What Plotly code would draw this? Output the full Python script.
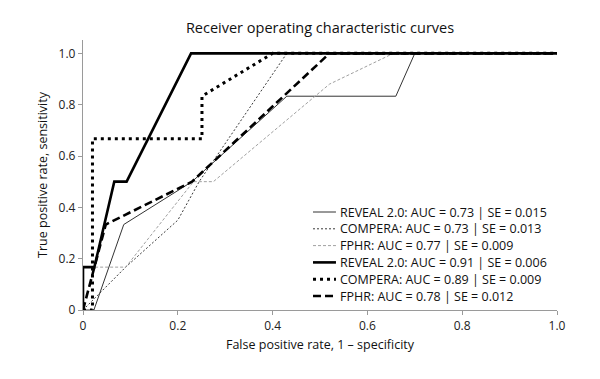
import plotly.graph_objects as go

# ---- data ----
fpr_reveal_a = [0, 0.023, 0.086, 0.23, 0.43, 0.66, 0.70, 1.0]
tpr_reveal_a = [0, 0, 0.333, 0.5, 0.833, 0.833, 1.0, 1.0]

fpr_compera_a = [0, 0.09, 0.2, 0.245, 0.43, 1.0]
tpr_compera_a = [0, 0.167, 0.35, 0.5, 1.0, 1.0]

fpr_fphr_a = [0, 0, 0.09, 0.233, 0.275, 0.52, 0.655, 1.0]
tpr_fphr_a = [0, 0.167, 0.167, 0.5, 0.5, 0.88, 1.0, 1.0]

fpr_reveal_b = [0, 0, 0.024, 0.066, 0.092, 0.228, 1.0]
tpr_reveal_b = [0, 0.167, 0.167, 0.5, 0.5, 1.0, 1.0]

fpr_compera_b = [0, 0.02, 0.02, 0.251, 0.251, 0.40, 1.0]
tpr_compera_b = [0, 0, 0.667, 0.667, 0.833, 1.0, 1.0]

fpr_fphr_b = [0, 0.048, 0.23, 0.52, 1.0]
tpr_fphr_b = [0, 0.333, 0.5, 1.0, 1.0]

labels = [
    "REVEAL 2.0: AUC = 0.73 | SE = 0.015",
    "COMPERA: AUC = 0.73 | SE = 0.013",
    "FPHR: AUC = 0.77 | SE = 0.009",
    "REVEAL 2.0: AUC = 0.91 | SE = 0.006",
    "COMPERA: AUC = 0.89 | SE = 0.009",
    "FPHR: AUC = 0.78 | SE = 0.012",
]

tick_vals = [0, 0.2, 0.4, 0.6, 0.8, 1.0]
tick_text = ["0", "0.2", "0.4", "0.6", "0.8", "1.0"]

# ---- styles ----
styles = [
    dict(color="#333333", width=1, dash="solid"),
    dict(color="#3a3a3a", width=1, dash="2px,2px"),
    dict(color="#a0a0a0", width=1, dash="3px,2px"),
    dict(color="#000000", width=2.6, dash="solid"),
    dict(color="#000000", width=3, dash="3px,4px"),
    dict(color="#000000", width=2.6, dash="8px,4px"),
]

series = [
    (fpr_reveal_a, tpr_reveal_a),
    (fpr_compera_a, tpr_compera_a),
    (fpr_fphr_a, tpr_fphr_a),
    (fpr_reveal_b, tpr_reveal_b),
    (fpr_compera_b, tpr_compera_b),
    (fpr_fphr_b, tpr_fphr_b),
]

FONT = "Open Sans"
fig = go.Figure()
for (xs, ys), lab, st in zip(series, labels, styles):
    fig.add_trace(go.Scatter(x=xs, y=ys, mode="lines", name=lab, line=st,
                             showlegend=False, hoverinfo="skip"))

# page body has an 8px margin; figure is sized/offset so the plot lands where the reference has it
OFF = 8
FW, FH = 592, 371
PL, PR, PT, PB = 82.5, 557.5, 40, 310   # plot area in page pixels
L = PL - OFF
R = FW + OFF - PR
T = PT - OFF
B = FH + OFF - PB
W = PR - PL
H = PB - PT

def px2x(p):
    return (p - PL) / W

def py2y(p):
    return (PB - p) / H

row0, gap = 212, 16.8
shapes = []
annotations = []
for i, (lab, st) in enumerate(zip(labels, styles)):
    yy = py2y(row0 + i * gap)
    shapes.append(dict(type="line", xref="paper", yref="paper",
                       x0=px2x(313), x1=px2x(336), y0=yy, y1=yy,
                       line=dict(color=st["color"], width=st["width"], dash=st["dash"])))
    annotations.append(dict(text=lab, xref="paper", yref="paper", x=px2x(338), y=yy,
                            xanchor="left", yanchor="middle", showarrow=False,
                            font=dict(family=FONT, size=12.5, color="#111111")))

fig.update_layout(
    width=FW, height=FH,
    margin=dict(l=L, r=R, t=T, b=B),
    paper_bgcolor="white", plot_bgcolor="white",
    title=dict(text="Receiver operating characteristic curves", x=(320 - OFF) / FW,
               xanchor="center", y=1 - (28 - OFF) / FH, yanchor="middle",
               font=dict(family=FONT, size=14.5, color="#111111")),
    font=dict(family=FONT, size=12, color="#333333"),
    shapes=shapes, annotations=annotations,
    xaxis=dict(range=[0, 1.0], tickvals=tick_vals, ticktext=tick_text,
               showgrid=False, zeroline=False, showline=True, linecolor="#9a9a9a",
               linewidth=1.3, ticks="outside", ticklen=4, tickcolor="#9a9a9a",
               tickfont=dict(family=FONT, size=12, color="#222222"),
               title=dict(text="False positive rate, 1 \u2013 specificity", standoff=7,
                          font=dict(family=FONT, size=12.5, color="#111111"))),
    yaxis=dict(range=[0, 1.052], tickvals=tick_vals, ticktext=tick_text,
               showgrid=False, zeroline=False, showline=True, linecolor="#9a9a9a",
               linewidth=1.3, ticks="outside", ticklen=4, tickcolor="#9a9a9a",
               tickfont=dict(family=FONT, size=12, color="#222222"),
               title=dict(text="True positive rate, sensitivity", standoff=8,
                          font=dict(family=FONT, size=12.5, color="#111111"))),
)

fig.write_html("out.html")
